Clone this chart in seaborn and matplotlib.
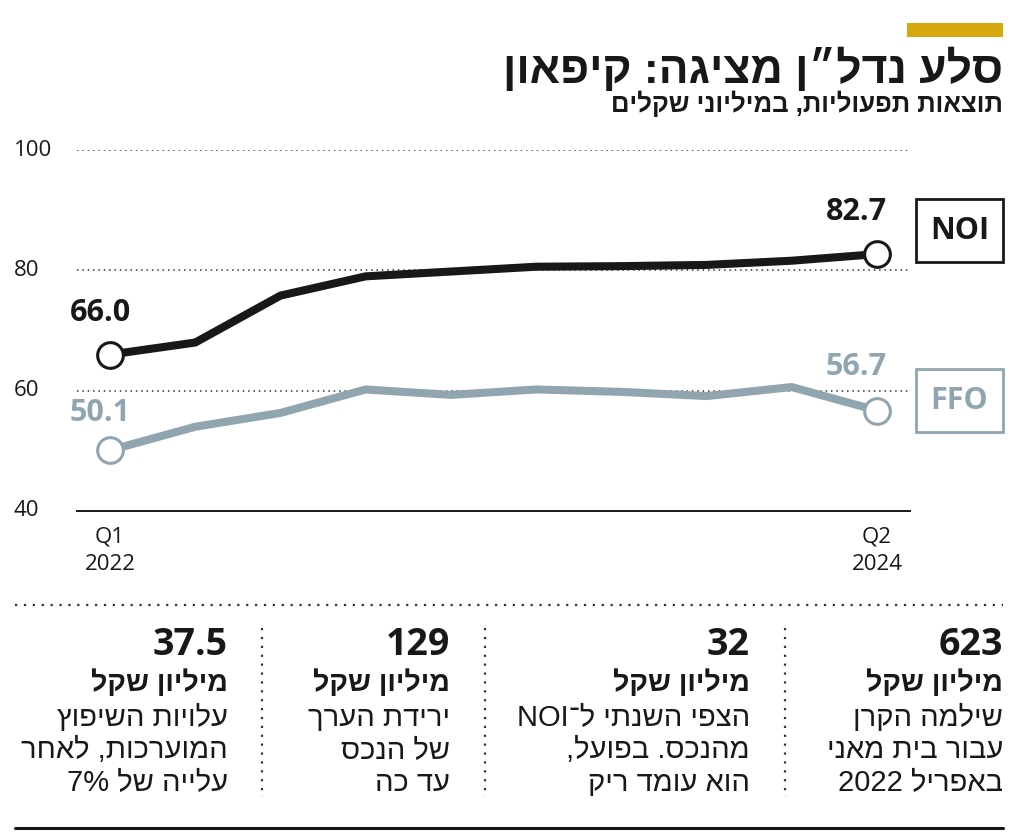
import re
import matplotlib
matplotlib.use("Agg")
import matplotlib.pyplot as plt
from matplotlib.lines import Line2D
from matplotlib.patches import Rectangle
import seaborn as sns
import pandas as pd

# data (millions of shekels)
quarters = ["Q1 2022", "Q2 2022", "Q3 2022", "Q4 2022", "Q1 2023",
            "Q2 2023", "Q3 2023", "Q4 2023", "Q1 2024", "Q2 2024"]
noi = [66.0, 68.0, 75.8, 79.0, 79.8, 80.6, 80.7, 80.9, 81.6, 82.7]
ffo = [50.1, 54.0, 56.3, 60.2, 59.3, 60.2, 59.8, 59.1, 60.6, 56.7]
y_ticks = [40, 60, 80, 100]
x_tick_labels = ["Q1\n2022", "Q2\n2024"]

title = "סלע נדל״ן מציגה: קיפאון"
subtitle = "תוצאות תפעוליות, במיליוני שקלים"

facts_numbers = ["623", "32", "129", "37.5"]
facts_units = ["מיליון שקל"] * 4
facts_text = [
    ["שילמה הקרן", "עבור בית מאני", "באפריל 2022"],
    ["הצפי השנתי ל־NOI", "מהנכס. בפועל,", "הוא עומד ריק"],
    ["ירידת הערך", "של הנכס", "עד כה"],
    ["עלויות השיפוץ", "המוערכות, לאחר", "עלייה של 7%"],
]

BLACK = "#1a1718"
GREY = "#91a5b1"
GOLD = "#d5a90d"
W, H = 1024, 839

HEB = ["Liberation Sans", "DejaVu Sans"]
NUM = ["Open Sans", "DejaVu Sans"]

LTR = re.compile(r"[A-Za-z0-9%]+(?:\.[0-9]+)?")


def rtl(s):
    """reorder a logical Hebrew string into visual left-to-right order"""
    parts, pos = [], 0
    for m in LTR.finditer(s):
        if m.start() > pos:
            parts.append(s[pos:m.start()][::-1])
        parts.append(m.group())
        pos = m.end()
    if pos < len(s):
        parts.append(s[pos:][::-1])
    return "".join(reversed(parts))


def fx(x):
    return x / W


def fy(y):
    return 1 - y / H


sns.set_theme(style="white")
plt.rcParams["font.family"] = HEB

fig = plt.figure(figsize=(W / 100, H / 100), dpi=100)

# plot area: x=0 at px 110, x=9 at px 877; y 40..100 at px 511..150
step = (877 - 110) / 9
x0 = (77 - 110) / step
x1 = (910 - 110) / step
ax = fig.add_axes([fx(77), fy(511), (910 - 77) / W, (511 - 150) / H])

df = pd.DataFrame({
    "idx": list(range(len(quarters))) * 2,
    "value": noi + ffo,
    "series": ["NOI"] * len(noi) + ["FFO"] * len(ffo),
})

for yv in y_ticks[1:]:
    ax.axhline(yv, color="#333333", lw=1.1, ls=(0, (1, 2.5)), zorder=0)

sns.lineplot(data=df, x="idx", y="value", hue="series",
             palette={"NOI": BLACK, "FFO": GREY}, linewidth=5.8,
             legend=False, ax=ax, zorder=3)
for c in ax.lines[-2:]:
    c.set_solid_joinstyle("miter")
    c.set_solid_capstyle("butt")

ends = [0, len(quarters) - 1]
ax.plot(ends, [noi[0], noi[-1]], "o", ms=18.5, mfc="white", mec=BLACK,
        mew=2.2, zorder=5, clip_on=False)
ax.plot(ends, [ffo[0], ffo[-1]], "o", ms=18.5, mfc="white", mec=GREY,
        mew=2.2, zorder=5, clip_on=False)

labels = [(0, noi[0], BLACK, -7, 30), (9, noi[-1], BLACK, -15, 30),
          (0, ffo[0], GREY, -7, 27), (9, ffo[-1], GREY, -15, 31)]
for xi, yv, col, dx, dy in labels:
    ax.annotate(f"{yv:.1f}", (xi, yv), xytext=(dx, dy),
                textcoords="offset points", ha="center", va="center",
                fontsize=22, fontweight="bold", color=col, family=NUM)

ax.set_xlim(x0, x1)
ax.set_ylim(40, 100)
ax.set_xticks(ends)
ax.set_xticklabels(x_tick_labels, fontsize=16, family=NUM, color=BLACK,
                   linespacing=1.4)
ax.tick_params(axis="x", direction="inout", length=15, width=1.3,
               color=BLACK, pad=4)
ax.set_yticks([])
for yv in y_ticks:
    ax.text(-0.076, yv, str(yv), transform=ax.get_yaxis_transform(),
            ha="left", va="center", fontsize=16, family=NUM, color=BLACK)
for s in ["top", "right", "left"]:
    ax.spines[s].set_visible(False)
ax.spines["bottom"].set_color(BLACK)
ax.spines["bottom"].set_linewidth(1.4)
ax.set_xlabel("")
ax.set_ylabel("")
ax.patch.set_alpha(0)

# legend boxes
for top, name, col in [(199, "NOI", BLACK), (369, "FFO", GREY)]:
    fig.add_artist(Rectangle((fx(916), fy(top + 63)), 87 / W, 63 / H,
                             transform=fig.transFigure, fill=False,
                             ec=col, lw=2))
    fig.text(fx(959.5), fy(top + 32), name, ha="center", va="center",
             fontsize=22, fontweight="bold", color=col, family=NUM)

# header
fig.add_artist(Rectangle((fx(907), fy(37)), 96 / W, 14 / H,
                         transform=fig.transFigure, color=GOLD, lw=0))
fig.text(fx(1003), fy(70), rtl(title), ha="right", va="center",
         fontsize=32, fontweight="bold", color=BLACK)
fig.text(fx(1003), fy(104), rtl(subtitle), ha="right", va="center",
         fontsize=18.5, fontweight="bold", color=BLACK)

# facts section
fig.add_artist(Line2D([fx(15), fx(1003)], [fy(605), fy(605)],
                      transform=fig.transFigure, color="#333333", lw=1.6,
                      ls=(0, (1, 3))))
for xv in [785, 485, 262]:
    fig.add_artist(Line2D([fx(xv), fx(xv)], [fy(628), fy(797)],
                          transform=fig.transFigure, color="#333333",
                          lw=1.6, ls=(0, (1, 3))))
fig.add_artist(Line2D([fx(15), fx(1003)], [fy(828), fy(828)],
                      transform=fig.transFigure, color=BLACK, lw=2.2))

col_right = [1003, 750, 450, 228]
for xr, num, unit, lines in zip(col_right, facts_numbers, facts_units,
                                facts_text):
    fig.text(fx(xr), fy(645), num, ha="right", va="center", fontsize=27,
             fontweight="bold", color=BLACK, family=NUM)
    fig.text(fx(xr), fy(683), rtl(unit), ha="right", va="center",
             fontsize=20.5, fontweight="bold", color=BLACK)
    for i, ln in enumerate(lines):
        fig.text(fx(xr), fy(718 + 32.5 * i), rtl(ln), ha="right",
                 va="center", fontsize=21, color=BLACK)

fig.savefig("out.png", dpi=100)
